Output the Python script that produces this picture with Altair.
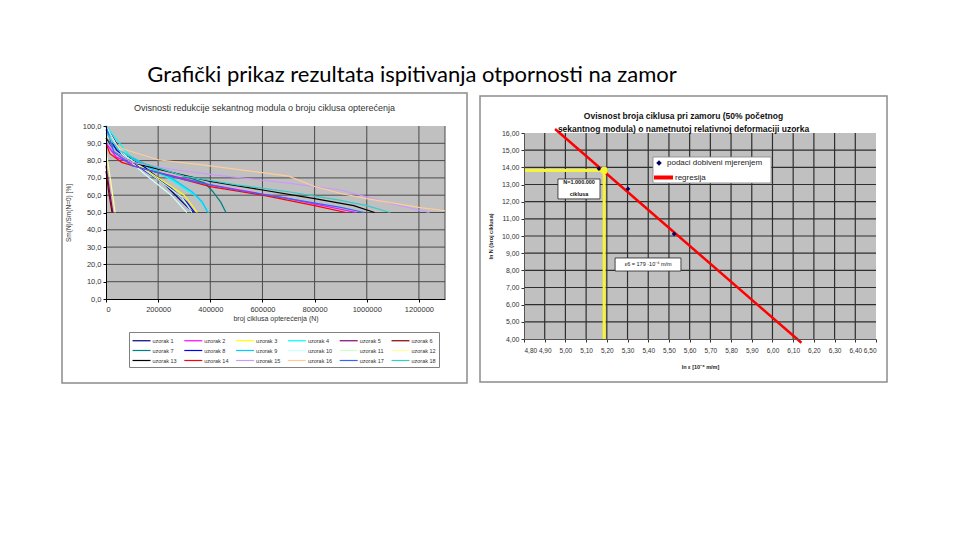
import altair as alt
import pandas as pd

# ---------------- LEFT CHART DATA ----------------
names = [f"uzorak {i}" for i in range(1, 19)]
colors = ["#000080", "#ff00ff", "#ffff00", "#00ffff", "#800080", "#800000",
          "#008080", "#0000ff", "#00ccff", "#ccffff", "#ccffcc", "#ffff99",
          "#000000", "#ff0000", "#cc99ff", "#ffcc99", "#3366ff", "#33cccc"]
widths = [1.2, 1.2, 1.2, 1.2, 1.2, 1.2, 2.6, 1.5, 2.6, 1.2, 1.2, 1.2,
          2.3, 2.3, 1.6, 1.6, 1.6, 1.6]

u1_n = [0, 20000, 60000, 150000, 200000, 260000, 300000, 335000]
u1_s = [100, 95, 85, 76, 70, 61, 55, 50]
u2_n = [0, 40000, 150000, 400000, 700000, 960000]
u2_s = [90, 82, 75, 66, 58, 50]
u3_n = [0, 80000, 200000, 300000, 350000]
u3_s = [95, 82, 70, 60, 50]
u4_n = [0, 100000, 250000, 350000, 395000]
u4_s = [100, 81, 69, 59, 50]
u5_n = [0, 12000, 26000]
u5_s = [77, 64, 50]
u6_n = [0, 10000, 23000]
u6_s = [74, 62, 50]
u7_n = [0, 50000, 150000, 300000, 380000, 410000, 440000, 460000]
u7_s = [93, 85, 78, 71, 67, 62, 56, 50]
u8_n = [0, 40000, 150000, 250000, 310000, 340000]
u8_s = [98, 86, 74, 64, 56, 50]
u9_n = [0, 20000, 60000, 150000, 250000, 330000, 370000, 390000]
u9_s = [100, 92, 85, 77, 70, 62, 56, 50]
u10_n = [0, 60000, 150000, 250000, 310000]
u10_s = [100, 84, 72, 60, 50]
u11_n = [0, 80000, 200000, 290000, 330000]
u11_s = [96, 82, 69, 59, 50]
u12_n = [0, 18000, 35000]
u12_s = [86, 68, 50]
u13_n = [0, 30000, 100000, 200000, 400000, 600000, 800000, 950000, 1030000]
u13_s = [93, 85, 79, 75, 68, 63, 58, 54, 50]
u14_n = [0, 15000, 60000, 150000, 300000, 400000, 600000, 800000, 920000]
u14_s = [90, 84, 79, 75, 69, 65, 60, 54, 50]
u15_n = [0, 30000, 100000, 250000, 400000, 700000, 900000, 1000000, 1100000, 1240000]
u15_s = [92, 85, 79, 75, 72, 67, 63, 59, 55, 50]
u16_n = [0, 15000, 60000, 200000, 400000, 600000, 700000, 800000, 900000, 1000000, 1200000, 1300000]
u16_s = [95, 92, 87, 80.5, 77, 73, 71, 65, 61, 58, 53, 51]
u17_n = [0, 30000, 100000, 300000, 500000, 700000, 900000, 990000]
u17_s = [100, 85, 77, 69, 63, 58, 53, 50]
u18_n = [0, 50000, 150000, 300000, 500000, 700000, 900000, 1000000, 1090000]
u18_s = [96, 86, 78, 71, 66, 62, 57, 54, 50]

series_n = [u1_n, u2_n, u3_n, u4_n, u5_n, u6_n, u7_n, u8_n, u9_n, u10_n,
            u11_n, u12_n, u13_n, u14_n, u15_n, u16_n, u17_n, u18_n]
series_s = [u1_s, u2_s, u3_s, u4_s, u5_s, u6_s, u7_s, u8_s, u9_s, u10_s,
            u11_s, u12_s, u13_s, u14_s, u15_s, u16_s, u17_s, u18_s]

left_x_ticks = [0, 200000, 400000, 600000, 800000, 1000000, 1200000]
left_y_ticks = [0, 10, 20, 30, 40, 50, 60, 70, 80, 90, 100]
left_x_grid = [200000, 400000, 600000, 800000, 1000000, 1200000, 1300000]
left_y_grid = [10, 20, 30, 40, 50, 60, 70, 80, 90]

# ---------------- RIGHT CHART DATA ----------------
meas_x = [5.162, 5.302, 5.525]
meas_y = [13.92, 12.74, 10.12]
reg_x = [4.95, 6.14]
reg_y = [16.23, 3.78]
ln_eps6 = 5.187
ln_n6 = 13.8155
right_x_ticks = [4.8, 4.9, 5.0, 5.1, 5.2, 5.3, 5.4, 5.5, 5.6, 5.7, 5.8, 5.9,
                 6.0, 6.1, 6.2, 6.3, 6.4, 6.5]
right_y_ticks = [4, 5, 6, 7, 8, 9, 10, 11, 12, 13, 14, 15, 16]
right_x_grid = [4.9, 5.0, 5.1, 5.2, 5.3, 5.4, 5.5, 5.6, 5.7, 5.8, 5.9, 6.0,
                6.1, 6.2, 6.3, 6.4]
right_y_grid = [5, 6, 7, 8, 9, 10, 11, 12, 13, 14, 15]

FONT = "Liberation Sans"
one = pd.DataFrame({"k": [0]})

# ================= LEFT CHART =================
LW, LH = 339, 173
xs_l = alt.Scale(domain=[0, 1300000], nice=False, zero=False)
ys_l = alt.Scale(domain=[0, 100], nice=False, zero=False)

ax_lx = alt.Axis(
    values=left_x_ticks, format="d", grid=False, zindex=1,
    labelFont=FONT, labelFontSize=7.5, labelColor="#333", labelPadding=3,
    tickSize=3, tickColor="#000", domainColor="#000",
    title="broj ciklusa opterećenja (N)", titleFont=FONT, titleFontSize=7,
    titleFontWeight="normal", titleColor="#333", titlePadding=2)
ax_ly = alt.Axis(
    values=left_y_ticks, labelExpr="replace(format(datum.value, '.1f'), '.', ',')",
    grid=False, zindex=1, labelFont=FONT, labelFontSize=7.5, labelColor="#333",
    tickSize=3, tickColor="#000", domainColor="#000",
    title="Sm(N)/Sm(N=0) [%]", titleFont=FONT, titleFontSize=6.5,
    titleFontWeight="normal", titleColor="#333", titlePadding=11)

rows = []
for nm, ns, ss in zip(names, series_n, series_s):
    for n, s in zip(ns, ss):
        rows.append({"name": nm, "N": n, "S": s})
df_left = pd.DataFrame(rows)

frame_l = alt.Chart(one).mark_rect(fill="white", stroke="#8c8c8c", strokeWidth=1.5).encode(
    x=alt.value(-44), x2=alt.value(361), y=alt.value(-33), y2=alt.value(257))
bg_l = alt.Chart(one).mark_rect(fill="#c0c0c0").encode(
    x=alt.value(0), x2=alt.value(LW), y=alt.value(0), y2=alt.value(LH))
vgrid_l = alt.Chart(pd.DataFrame({"N": left_x_grid})).mark_rule(color="#4a4a4a", strokeWidth=1).encode(
    x=alt.X("N:Q", scale=xs_l, axis=ax_lx))
hgrid_l = alt.Chart(pd.DataFrame({"S": left_y_grid})).mark_rule(color="#4a4a4a", strokeWidth=1).encode(
    y=alt.Y("S:Q", scale=ys_l, axis=ax_ly))

leg_l = dict(title=None, orient="none", legendX=23, legendY=206, columns=6,
             direction="horizontal", symbolType="M-1,0H2.6", symbolSize=100,
             labelFont=FONT, labelFontSize=5.5, labelColor="#333", labelOffset=9,
             columnPadding=3.8, rowPadding=-0.5, gridAlign="all",
             strokeColor="#808080", fillColor="white", padding=2.5)

lines_l = alt.Chart(df_left).mark_line().encode(
    x=alt.X("N:Q", scale=xs_l, axis=ax_lx),
    y=alt.Y("S:Q", scale=ys_l, axis=ax_ly),
    color=alt.Color("name:N", scale=alt.Scale(domain=names, range=colors), legend=alt.Legend(**leg_l)),
    strokeWidth=alt.StrokeWidth("name:N", scale=alt.Scale(domain=names, range=widths),
                                legend=alt.Legend(**leg_l)),
    detail="name:N",
)

left = alt.layer(frame_l, bg_l, vgrid_l, hgrid_l, lines_l).properties(
    width=LW, height=LH,
    title=alt.TitleParams(
        text="Ovisnosti  redukcije sekantnog modula o broju ciklusa opterećenja",
        font=FONT, fontSize=9, fontWeight="normal", color="#333",
        anchor="middle", frame="bounds", baseline="alphabetic", offset=-28))

# ================= RIGHT CHART =================
RW, RH = 352, 213
TOP = 7
xs_r = alt.Scale(domain=[4.8, 6.5], nice=False, zero=False)
ys_r = alt.Scale(domain=[4, 16], nice=False, zero=False, range=[RH, TOP])

ax_rx = alt.Axis(
    values=right_x_ticks, labelExpr="replace(format(datum.value, '.2f'), '.', ',')",
    grid=False, zindex=1, labelFont=FONT, labelFontSize=6.5, labelColor="#333",
    labelPadding=5, tickSize=3, tickColor="#333", domainColor="#555",
    title="ln ε [10⁻⁶ m/m]", titleFont=FONT, titleFontSize=5.5,
    titleFontWeight="bold", titleColor="#222", titlePadding=11)
ax_ry = alt.Axis(
    values=right_y_ticks, labelExpr="replace(format(datum.value, '.2f'), '.', ',')",
    grid=False, zindex=1, labelFont=FONT, labelFontSize=7, labelColor="#333",
    tickSize=3, tickColor="#333", domainColor="#555",
    title="ln N (broj ciklusa)", titleFont=FONT, titleFontSize=5.5,
    titleFontWeight="bold", titleColor="#222", titlePadding=8)

frame_r = alt.Chart(one).mark_rect(fill="white", stroke="#8c8c8c", strokeWidth=1.5).encode(
    x=alt.value(-44), x2=alt.value(363), y=alt.value(-30), y2=alt.value(256))
bg_r = alt.Chart(one).mark_rect(fill="#c0c0c0").encode(
    x=alt.value(0), x2=alt.value(RW), y=alt.value(TOP), y2=alt.value(RH))
vgrid_r = alt.Chart(pd.DataFrame({"x": right_x_grid})).mark_rule(color="#2e2e2e", strokeWidth=1.2).encode(
    x=alt.X("x:Q", scale=xs_r, axis=ax_rx), y=alt.value(TOP), y2=alt.value(RH))
hgrid_r = alt.Chart(pd.DataFrame({"y": right_y_grid})).mark_rule(color="#2e2e2e", strokeWidth=1.2).encode(
    y=alt.Y("y:Q", scale=ys_r, axis=ax_ry))

yel_h = alt.Chart(pd.DataFrame({"x": [4.8], "x2": [ln_eps6], "y": [ln_n6]})).mark_rule(
    color="#f5f532", strokeWidth=3).encode(
    x=alt.X("x:Q", scale=xs_r, axis=ax_rx), x2="x2:Q", y=alt.Y("y:Q", scale=ys_r, axis=ax_ry))
yel_v = alt.Chart(pd.DataFrame({"x": [ln_eps6], "y": [4.0], "y2": [ln_n6]})).mark_rule(
    color="#f5f532", strokeWidth=3).encode(
    x=alt.X("x:Q", scale=xs_r, axis=ax_rx), y=alt.Y("y:Q", scale=ys_r, axis=ax_ry), y2="y2:Q")

reg = alt.Chart(pd.DataFrame({"x": reg_x, "y": reg_y, "lab": ["regresija"] * len(reg_x)})).mark_line(
    strokeWidth=2.5).encode(
    x=alt.X("x:Q", scale=xs_r, axis=ax_rx),
    y=alt.Y("y:Q", scale=ys_r, axis=ax_ry),
    color=alt.Color("lab:N", scale=alt.Scale(domain=["regresija"], range=["#ff0000"]), legend=alt.Legend(
        title=None, orient="none", legendX=128, legendY=40, symbolType="stroke",
        symbolSize=361, symbolStrokeWidth=4, labelFont=FONT, labelFontSize=8,
        labelColor="#222", labelOffset=0, padding=0)),
)

pts = alt.Chart(pd.DataFrame({"x": meas_x, "y": meas_y,
                              "lab": ["podaci dobiveni mjerenjem"] * len(meas_x)})).mark_point(
    filled=True, color="#000066", size=22, opacity=1).encode(
    x=alt.X("x:Q", scale=xs_r, axis=ax_rx), y=alt.Y("y:Q", scale=ys_r, axis=ax_ry),
    shape=alt.Shape("lab:N", scale=alt.Scale(domain=["podaci dobiveni mjerenjem"], range=["diamond"]),
                    legend=alt.Legend(title=None, orient="none", legendX=131, legendY=33,
                                      symbolSize=30, symbolFillColor="#000066",
                                      symbolStrokeWidth=0, labelFont=FONT, labelFontSize=8,
                                      labelColor="#222", labelOffset=4, padding=0)))

ypt = alt.Chart(pd.DataFrame({"x": [ln_eps6], "y": [ln_n6]})).mark_point(
    filled=True, color="#f5f532", size=55, opacity=1).encode(
    x=alt.X("x:Q", scale=xs_r, axis=ax_rx), y=alt.Y("y:Q", scale=ys_r, axis=ax_ry))

# annotation boxes (data coordinates)
box_x = [4.964, 5.240, 5.423]
box_x2 = [5.167, 5.558, 5.993]
box_y = [13.32, 8.72, 14.60]
box_y2 = [12.16, 7.96, 13.09]
box_stroke = ["#222222", "#222222", "#888888"]
boxes = alt.Chart(pd.DataFrame({"x": box_x, "x2": box_x2, "y": box_y, "y2": box_y2,
                                "s": box_stroke})).mark_rect(fill="white", strokeWidth=0.8).encode(
    x=alt.X("x:Q", scale=xs_r, axis=ax_rx), x2="x2:Q",
    y=alt.Y("y:Q", scale=ys_r, axis=ax_ry), y2="y2:Q",
    stroke=alt.Stroke("s:N", scale=None))

ann1_text = ["N=1.000.000", "ciklusa"]
ann1_x = [5.066, 5.066]
ann1_y = [13.12, 12.45]
ann1 = alt.Chart(pd.DataFrame({"x": ann1_x, "y": ann1_y, "t": ann1_text})).mark_text(
    font=FONT, fontSize=5.5, fontWeight="bold", color="#111").encode(
    x=alt.X("x:Q", scale=xs_r, axis=ax_rx), y=alt.Y("y:Q", scale=ys_r, axis=ax_ry), text="t:N")
ann2 = alt.Chart(pd.DataFrame({"x": [5.40], "y": [8.34], "t": ["ε6 = 179 ·10⁻⁶ m/m"]})).mark_text(
    font=FONT, fontSize=5.5, color="#111").encode(
    x=alt.X("x:Q", scale=xs_r, axis=ax_rx), y=alt.Y("y:Q", scale=ys_r, axis=ax_ry), text="t:N")

right = alt.layer(frame_r, bg_r, vgrid_r, hgrid_r, yel_h, yel_v, reg, pts, ypt,
                  boxes, ann1, ann2).properties(
    width=RW, height=RH,
    title=alt.TitleParams(
        text=["Ovisnost broja ciklusa pri zamoru (50% početnog",
              "sekantnog modula) o nametnutoj relativnoj deformaciji uzorka"],
        font=FONT, fontSize=8.5, fontWeight="bold", color="#111", lineHeight=13,
        anchor="middle", frame="bounds", baseline="alphabetic", offset=-45)
).resolve_legend(shape="independent", color="independent")

chart = alt.hconcat(left, right, spacing=11).resolve_scale(
    color="independent", shape="independent", strokeWidth="independent"
).resolve_legend(
    color="independent", shape="independent", strokeWidth="independent"
).properties(
    title=alt.TitleParams(
        text="Grafički prikaz rezultata ispitivanja otpornosti na zamor",
        font="Lato", fontSize=22, fontWeight="normal", color="#000",
        anchor="start", frame="bounds", dx=86, offset=-12, baseline="alphabetic"),
    padding={"left": 61, "top": 64, "right": 5, "bottom": 5},
    background="white",
).configure_view(strokeWidth=0)

chart.save("out.html", embed_options={"renderer": "svg", "actions": False})
